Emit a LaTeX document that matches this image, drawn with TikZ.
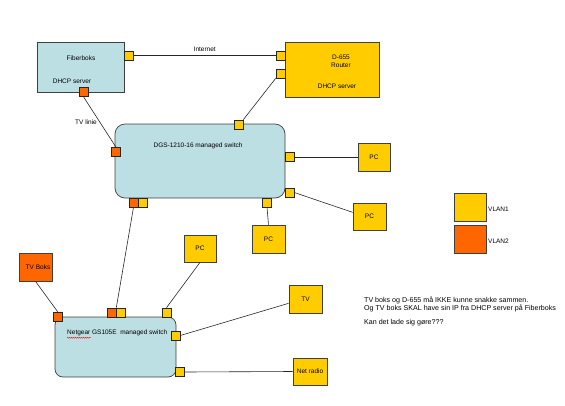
\documentclass[tikz,border=0pt]{standalone}
\usepackage{fontspec}
\setmainfont{Liberation Sans}
\usetikzlibrary{calc,decorations.pathmorphing}
\definecolor{vyel}{HTML}{FFCC00}
\definecolor{vora}{HTML}{FF6600}
\definecolor{lblue}{HTML}{BBDFE3}
\definecolor{edge}{HTML}{404040}
\tikzset{
  x=1pt,y=-1pt,
  every node/.style={font=\fontsize{6.5}{8}\selectfont},
  dev/.style={draw=edge,line width=0.7pt,inner sep=0pt},
  bluebox/.style={dev,fill=lblue},
  ybox/.style={dev,fill=vyel},
  obox/.style={dev,fill=vora},
  yport/.style={draw=black!85,line width=0.6pt,fill=vyel,minimum size=9pt,inner sep=0pt},
  oport/.style={draw=black!85,line width=0.6pt,fill=vora,minimum size=9pt,inner sep=0pt},
  wire/.style={draw=black!85,line width=0.6pt},
  txt/.style={inner sep=0pt}
}
\begin{document}
\begin{tikzpicture}
\useasboundingbox (0,0) rectangle (565,405);
% main boxes
\node[bluebox,minimum width=87pt,minimum height=50pt] (fiber) at (80.5,67) {};
\node[ybox,minimum width=94pt,minimum height=55pt] (router) at (332,69.5) {};
\node[bluebox,rounded corners=10pt,minimum width=170pt,minimum height=74pt] (dgs) at (200,161) {};
\node[bluebox,rounded corners=8pt,minimum width=121pt,minimum height=60pt] (netgear) at (115.5,347) {};
% small devices
\node[ybox,minimum width=32pt,minimum height=28pt] (pc1) at (374,157) {PC};
\node[ybox,minimum width=33pt,minimum height=27pt] (pc2) at (369.5,216.5) {PC};
\node[ybox,minimum width=33pt,minimum height=28pt] (pc3) at (268.5,239) {PC};
\node[ybox,minimum width=32pt,minimum height=27pt] (pc4) at (200,248.5) {PC};
\node[obox,minimum width=33pt,minimum height=28pt] (tvboks) at (35.5,267) {\hspace*{5pt}TV Boks};
\node[ybox,minimum width=33pt,minimum height=28pt] (tv) at (305.5,299) {TV};
\node[ybox,minimum width=34pt,minimum height=27pt] (netradio) at (310,371.5) {Net radio};
% legend
\node[ybox,minimum width=32pt,minimum height=28pt] (vlan1) at (470,207) {};
\node[obox,minimum width=32pt,minimum height=28pt] (vlan2) at (470,239) {};
\node[txt,anchor=west] (vlan1t) at (488,209) {VLAN1};
\node[txt,anchor=west] (vlan2t) at (488,241) {VLAN2};
% box texts
\node[txt] (fibert) at (81,58) {Fiberboks};
\node[txt] (fiberd) at (72,81) {DHCP server};
\node[txt] (routert) at (341,62) {\begin{tabular}{@{}c@{}}D-655\\Router\end{tabular}};
\node[txt] (routerd) at (337,86) {DHCP server};
\node[txt] (dgst) at (198,146) {DGS-1210-16 managed switch};
\node[txt,anchor=west] (ngt) at (67,333) {Netgear GS105E\ \ managed switch};
\draw[red,line width=0.4pt,decorate,decoration={snake,amplitude=0.5pt,segment length=2pt}] ($(ngt.south west)+(0,1.5)$) -- ++(24,0);
% ports
\node[yport] (fp1) at (129,55.5) {};
\node[oport] (fp2) at (83.5,92) {};
\node[yport] (rp1) at (280.5,55.5) {};
\node[yport] (rp2) at (280.5,73.5) {};
\node[yport] (dtop) at (238.5,124.5) {};
\node[oport] (dl) at (116,152) {};
\node[yport] (dr1) at (289.5,157) {};
\node[yport] (dr2) at (289.5,192.5) {};
\node[yport] (db) at (267,202.5) {};
\node[oport] (dbo) at (133.5,202.5) {};
\node[yport] (dby) at (142.5,202.5) {};
\node[oport] (ntl) at (58,317) {};
\node[oport] (nto) at (111.5,312.5) {};
\node[yport] (nty) at (120.5,312.5) {};
\node[yport] (ntr) at (166.5,312.5) {};
\node[yport] (nr) at (175.5,335.5) {};
\node[yport] (nbr) at (179.5,372) {};
% connectors
\draw[wire] (fp1.east) -- node[txt,above=4pt] (inet) {Internet} (rp1.west);
\draw[wire] (fp2.south) -- (dl.north);
\node[txt] (tvlinie) at (86,122) {TV linie};
\draw[wire] (rp2.south west) -- (dtop.north east);
\draw[wire] (dr1.east) -- (pc1.west);
\draw[wire] (dr2.east) -- ($(pc2.north west)!0.35!(pc2.south west)$);
\draw[wire] (db.south) -- (pc3.north);
\draw[wire] (dbo.south) -- (nto.north east);
\draw[wire] (tvboks.south) -- (ntl.north);
\draw[wire] (ntr.north) -- (pc4.south);
\draw[wire] (nr.east) -- ($(tv.north west)!0.65!(tv.south west)$);
\draw[wire] (nbr.east) -- (netradio.west);
% note
\node[txt,anchor=north west,align=left,font=\fontsize{7.1}{8}\selectfont] (note) at (364,297) {TV boks og D-655 må IKKE kunne snakke sammen.\\Og TV boks SKAL have sin IP fra DHCP server på Fiberboks\\[6pt]Kan det lade sig gøre???};
\end{tikzpicture}
\end{document}
